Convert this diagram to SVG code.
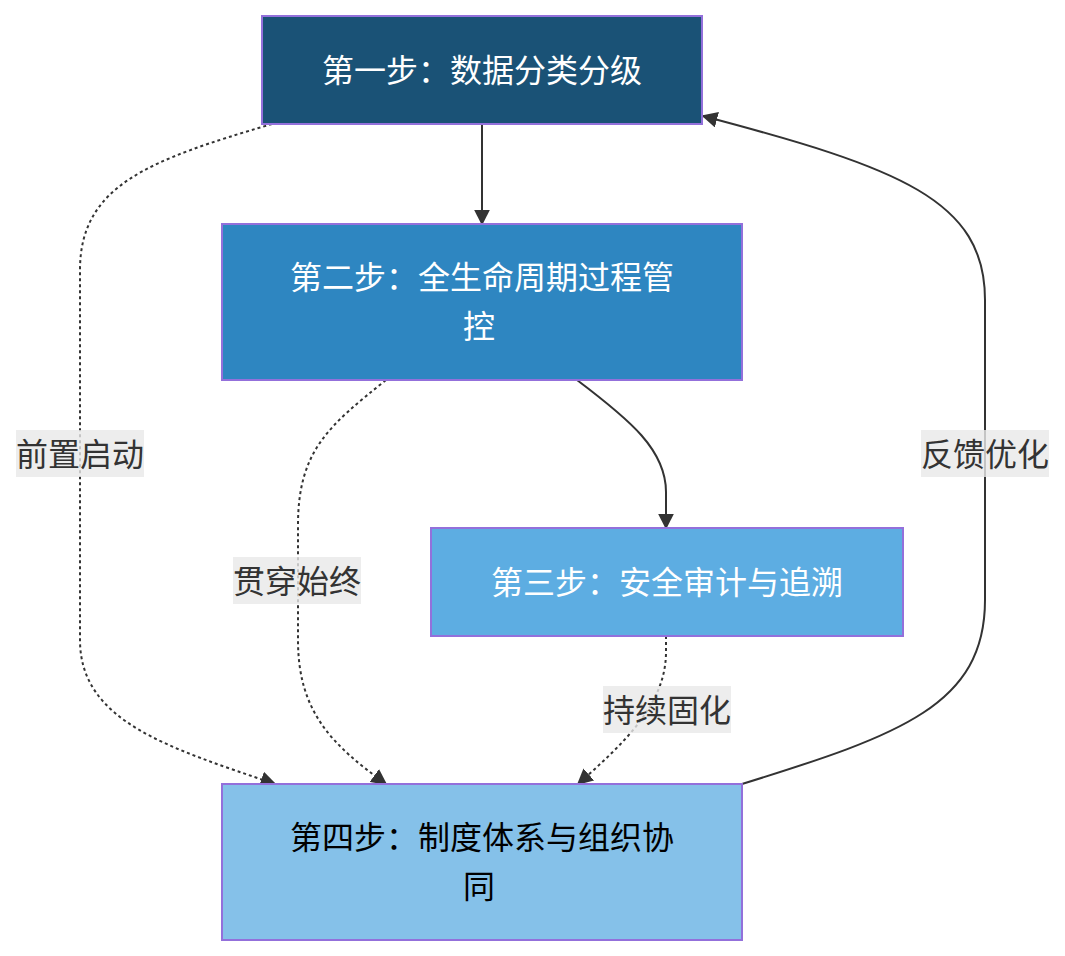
<svg xmlns="http://www.w3.org/2000/svg" width="1065" height="956" viewBox="0 0 1065 956">
<defs>
<style>
.node rect{stroke:#9370DB;stroke-width:2}
.lbl{font-family:"Noto Sans CJK SC","Noto Sans",sans-serif;font-size:32px;text-anchor:middle;dominant-baseline:central}
.w{fill:#ffffff}
.k{fill:#000000}
.e{fill:none;stroke:#333333;stroke-width:2}
.d{stroke-dasharray:3 3}
.elbg{fill:rgba(232,232,232,0.8)}
.elt{fill:#333333}
</style>
<marker id="arr" viewBox="0 0 10 10" refX="9" refY="5" markerUnits="userSpaceOnUse" markerWidth="16" markerHeight="16" orient="auto">
<path d="M0,0 L10,5 L0,10 z" fill="#333333"/>
</marker>
</defs>
<rect width="1065" height="956" fill="#ffffff"/>
<g id="edges">
<path class="e" d="M482,124 L482,224" marker-end="url(#arr)"/>
<path class="e" d="M577,380 C630,420 666,450 666,492 L666,528" marker-end="url(#arr)"/>
<path class="e d" d="M666,636 L666,652 C666,705 622,745 578,784" marker-end="url(#arr)"/>
<path class="e d" d="M386,380 C330,425 298,450 298,525 L298,640 C298,712 332,745 386,784" marker-end="url(#arr)"/>
<path class="e d" d="M272,124 C150,160 80,185 80,270 L80,640 C80,722 170,748 275,784" marker-end="url(#arr)"/>
<path class="e" d="M742,784 C900,735 985,705 985,600 L985,300 C985,200 900,168 703,116" marker-end="url(#arr)"/>
</g>
<g id="edge-labels">
<g id="label-qianzhi"><rect class="elbg" x="16" y="430" width="128" height="47"/><text class="lbl elt" x="80" y="452">前置启动</text></g>
<g id="label-guanchuan"><rect class="elbg" x="233" y="557" width="128" height="47"/><text class="lbl elt" x="297" y="579">贯穿始终</text></g>
<g id="label-chixu"><rect class="elbg" x="603" y="686" width="128" height="47"/><text class="lbl elt" x="667" y="708">持续固化</text></g>
<g id="label-fankui"><rect class="elbg" x="921" y="430" width="128" height="47"/><text class="lbl elt" x="985" y="452">反馈优化</text></g>
</g>
<g id="node1" class="node"><rect x="262" y="16" width="440" height="108" fill="#1A5276"/><text class="lbl w" x="482" y="68">第一步：数据分类分级</text></g>
<g id="node2" class="node"><rect x="222" y="224" width="520" height="156" fill="#2E86C1"/><text class="lbl w" x="482" y="275">第二步：全生命周期过程管</text><text class="lbl w" x="479" y="324">控</text></g>
<g id="node3" class="node"><rect x="431" y="528" width="472" height="108" fill="#5DADE2"/><text class="lbl w" x="667" y="580">第三步：安全审计与追溯</text></g>
<g id="node4" class="node"><rect x="222" y="784" width="520" height="156" fill="#85C1E9"/><text class="lbl k" x="482" y="835">第四步：制度体系与组织协</text><text class="lbl k" x="479" y="884">同</text></g>
</svg>
